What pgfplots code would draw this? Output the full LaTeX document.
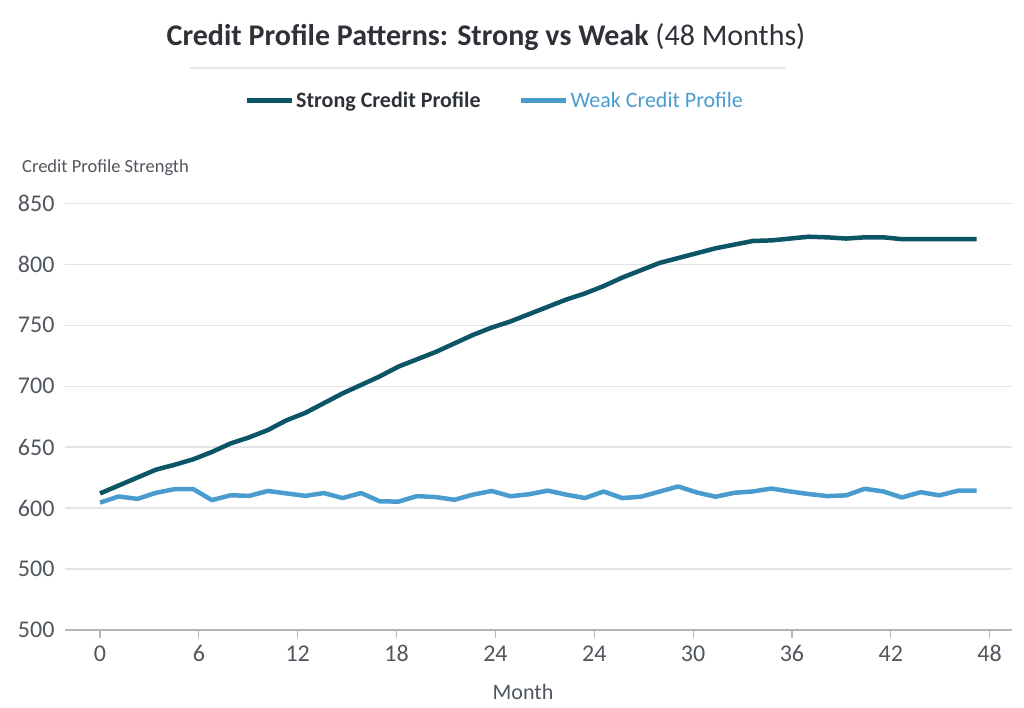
\documentclass[border=0pt]{standalone}
\usepackage{pgfplots}
\pgfplotsset{compat=1.18}
\usepackage{fontspec}
\setmainfont{Carlito}

\definecolor{strongc}{HTML}{0B5566}
\definecolor{weakc}{HTML}{4A9CCF}
\definecolor{txt}{HTML}{2E3238}
\definecolor{tickc}{HTML}{50565D}
\definecolor{gridc}{HTML}{E3E3E8}
\definecolor{axc}{HTML}{B4B4BC}

% month index, score
\pgfplotstableread{
m  strong weak
0  612   604.5
1  618.5 609.5
2  625   607.5
3  631.5 612.5
4  635.5 615.5
5  640   615.5
6  646   606.5
7  653   610.5
8  658   610
9  664   614
10 672   612
11 678   610
12 686   612.3
13 694   608.2
14 701   612.3
15 708   605.5
16 716   605.3
17 722   609.8
18 728   609
19 735   606.8
20 742   611
21 748   614
22 753   609.7
23 759   611.3
24 765   614.3
25 771   611
26 776   608.2
27 782   613.6
28 789   608.2
29 795   609.3
30 801   613.5
31 805   617.7
32 809   612.8
33 813   609.3
34 816   612.5
35 819   613.6
36 819.5 616
37 821   613.6
38 822.5 611.5
39 822   609.8
40 821   610.4
41 822   615.8
42 822   613.6
43 820.5 608.7
44 820.5 613
45 820.5 610.4
46 820.5 614.2
47 820.5 614.2
}\credit

\begin{document}
\begin{tikzpicture}
\begin{axis}[
  scale only axis,
  width=947pt, height=439pt,
  xmin=-1.88, xmax=48.9,
  ymin=500, ymax=860,
  clip=false,
  axis x line*=bottom,
  axis y line*=left,
  y axis line style={draw=none},
  x axis line style={axc, line width=1.3pt, -},
  xtick={0,5.3,10.6,15.9,21.2,26.5,31.8,37.1,42.4,47.7},
  xticklabels={0,6,12,18,24,24,30,36,42,48},
  ytick={500,550,600,650,700,750,800,850},
  yticklabels={500,500,600,650,700,750,800,850},
  tick align=outside,
  major tick length=8pt,
  xtick style={axc, line width=1.2pt},
  ytick style={draw=none},
  ymajorgrids,
  grid style={gridc, line width=1.2pt},
  ticklabel style={font=\fontsize{24}{24}\selectfont, text=tickc},
  yticklabel style={xshift=1pt},
  xticklabel style={yshift=-4pt},
  legend columns=2,
  legend style={at={(rel axis cs:0.4535,1.207)}, anchor=center, draw=none, fill=none,
    font=\fontsize{22}{22}\selectfont,
    /tikz/every even column/.append style={column sep=36pt}},
  legend image code/.code={\draw[#1, line width=5pt] (0pt,0pt) -- (45pt,0pt);},
]
\addplot[strongc, line width=4.5pt, line join=round] table[x=m, y=strong] {\credit};
\addlegendentry{\textcolor{txt}{\textbf{Strong Credit Profile}}}
\addplot[weakc, line width=4.5pt, line join=round] table[x=m, y=weak] {\credit};
\addlegendentry{\textcolor{weakc}{Weak Credit Profile}}

\node[font=\fontsize{30}{31}\selectfont, text=txt] at (rel axis cs:0.4446,1.351)
  {\textbf{Credit Profile Patterns: Strong vs Weak} (48 Months)};
\draw[gridc, line width=1.3pt] (rel axis cs:0.132,1.280) -- (rel axis cs:0.760,1.280);
\node[anchor=base west, inner sep=0pt, font=\fontsize{18.5}{19}\selectfont, text=tickc]
  at (rel axis cs:-0.0454,1.041) {Credit Profile Strength};
\node[anchor=base, inner sep=0pt, font=\fontsize{22}{22}\selectfont, text=tickc]
  at (rel axis cs:0.4836,-0.159) {Month};
\path (rel axis cs:-0.06864,-0.17768) rectangle (rel axis cs:1.01267,1.43508);
\end{axis}
\end{tikzpicture}
\end{document}
